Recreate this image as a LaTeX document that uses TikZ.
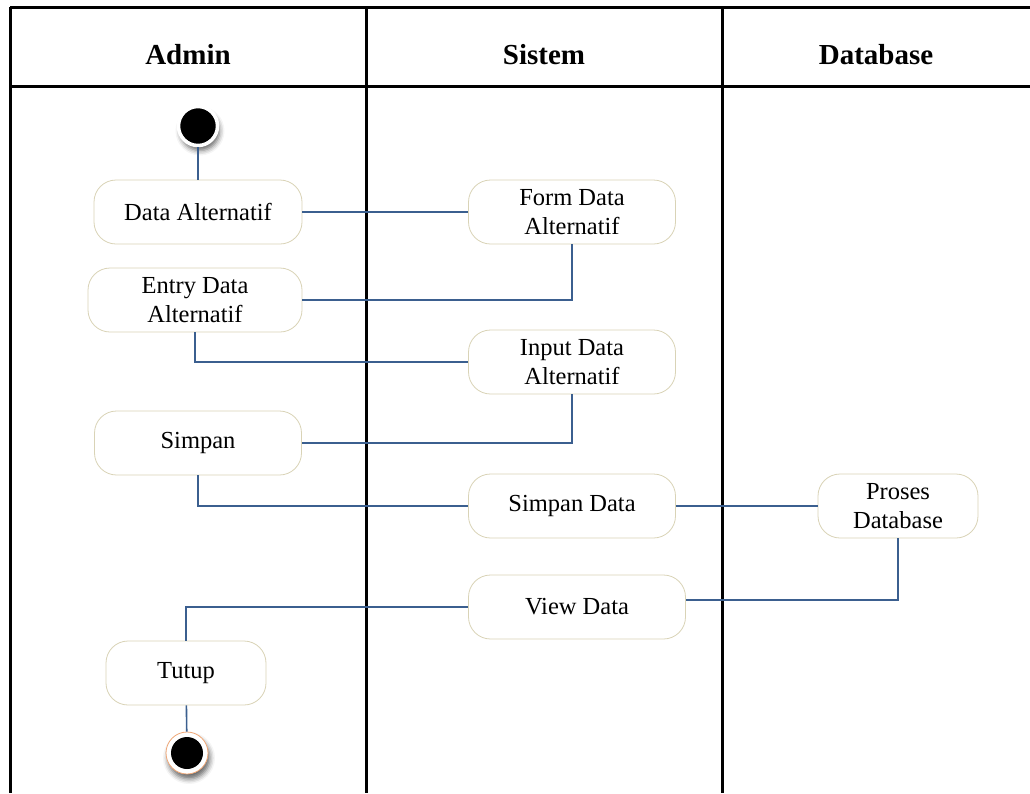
\documentclass[tikz,border=0pt]{standalone}
\usepackage{fontspec}
\setmainfont{Liberation Serif}
\usepackage{xcolor}
\usepackage{tikz}
\usetikzlibrary{shapes,arrows,positioning,shadows,shadows.blur}

\definecolor{flowblue}{HTML}{3B5F8F}
\definecolor{boxedge}{HTML}{D9D3B6}
\definecolor{endring}{HTML}{F0A878}

\begin{document}
\begin{tikzpicture}[
    x=1pt, y=-1pt,
    lane/.style={line width=3pt, black},
    head/.style={font=\fontsize{29}{34}\selectfont\bfseries},
    act/.style={rectangle, rounded corners=22pt, draw=boxedge, fill=white, line width=0.8pt, minimum width=207pt, minimum height=64pt, align=center, font=\fontsize{24.5}{29}\selectfont},
    flow/.style={flowblue, line width=1.6pt},
    startdot/.style={circle, fill=black, draw=white, line width=3.5pt, minimum size=39pt, inner sep=0pt, blur shadow={shadow xshift=2pt, shadow yshift=-5pt, shadow blur radius=5pt, shadow opacity=60}},
    enddot/.style={circle, fill=white, draw=endring, line width=0.8pt, minimum size=42pt, inner sep=0pt, blur shadow={shadow xshift=2pt, shadow yshift=-5pt, shadow blur radius=5pt, shadow opacity=60},
        path picture={\fill[black] (path picture bounding box.center) circle (16pt);}}
]
    \useasboundingbox (0,0) rectangle (1030,793);

    % Swimlanes
    \draw[lane] (10,7) -- (1030,7);
    \draw[lane] (10,86) -- (1030,86);
    \draw[lane] (10,7) -- (10,793);
    \draw[lane] (366,7) -- (366,793);
    \draw[lane] (722,7) -- (722,793);
    \node[head] (hadmin) at (188,55) {Admin};
    \node[head] (hsistem) at (544,55) {Sistem};
    \node[head] (hdb) at (876,55) {Database};

    % Admin
    \node[startdot] (start) at (198,126) {};
    \node[act, minimum width=208pt] (data) at (198,212) {Data Alternatif};
    \node[act, minimum width=214pt] (entry) at (195,300) {Entry Data\\Alternatif};
    \node[act] (simpan) at (198,443) {Simpan};
    \node[act, minimum width=160pt] (tutup) at (186,673) {Tutup};
    \node[enddot] (end) at (187,753) {};

    % Sistem
    \node[act] (form) at (572,212) {Form Data\\Alternatif};
    \node[act] (input) at (572,362) {Input Data\\Alternatif};
    \node[act] (simpandata) at (572,506) {Simpan Data};
    \node[act, minimum width=217pt] (view) at (577,607) {View Data};

    % Database
    \node[act, minimum width=160pt] (proses) at (898,506) {Proses\\Database};

    % Flow
    \draw[flow] (start) -- (data);
    \draw[flow] (data) -- (form);
    \draw[flow] (form.south) |- (entry.east);
    \draw[flow] (entry.south) |- (input.west);
    \draw[flow] (input.south) |- (simpan.east);
    \draw[flow] (simpan.south) |- (simpandata.west);
    \draw[flow] (simpandata) -- (proses);
    \draw[flow] (proses.south) |- ([yshift=7pt]view.east);
    \draw[flow] (view.west) -| (tutup.north);
    \draw[flow] (tutup) -- (end);

\end{tikzpicture}
\end{document}
